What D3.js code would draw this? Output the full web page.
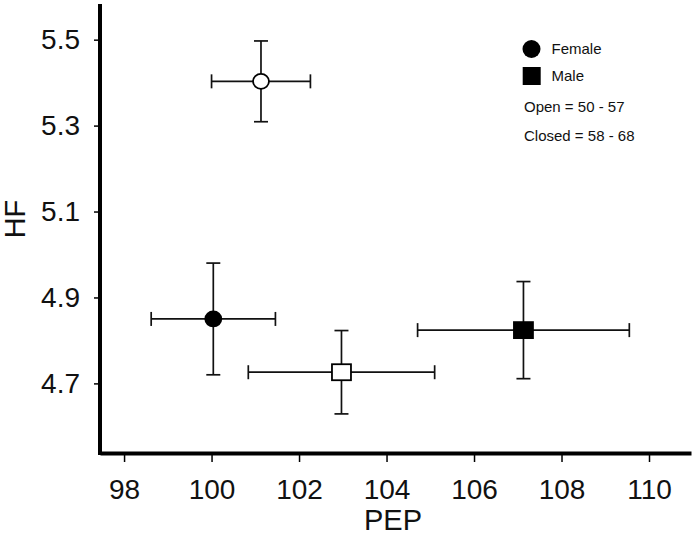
<!DOCTYPE html>
<html>
<head>
<meta charset="utf-8">
<script src="https://cdn.jsdelivr.net/npm/d3@7"></script>
<style>
  html, body { margin: 0; padding: 0; background: #fff; }
  svg { display: block; font-family: "Liberation Sans", Arial, sans-serif; }
</style>
</head>
<body>
<svg id="chart" width="696" height="535"></svg>
<script>
// ---- data ----
const groups  = ["Female Open", "Female Closed", "Male Open", "Male Closed"];
const sex     = ["Female", "Female", "Male", "Male"];
const ageOpen = [true, false, true, false];
const pep     = [101.13, 100.04, 102.97, 107.13];
const pepErr  = [1.13, 1.42, 2.13, 2.42];
const hf      = [5.403, 4.850, 4.726, 4.824];
const hfErr   = [0.094, 0.130, 0.097, 0.113];
const xTicks  = [98, 100, 102, 104, 106, 108, 110];
const yTicks  = [4.7, 4.9, 5.1, 5.3, 5.5];
const legendSymbols = ["Female", "Male"];
const legendNotes   = ["Open = 50 - 57", "Closed = 58 - 68"];

const rows = groups.map((g, i) => ({
  g, sex: sex[i], open: ageOpen[i], x: pep[i], xe: pepErr[i], y: hf[i], ye: hfErr[i]
}));

const svg = d3.select("#chart");
const x = d3.scaleLinear().domain([97.45, 110.96]).range([100, 691]);
const y = d3.scaleLinear().domain([4.538, 5.583]).range([453, 4]);
const font = '"Liberation Sans", Arial, sans-serif';

// ---- axes ----
const xAxis = svg.append("g").attr("transform", "translate(0,453)")
  .call(d3.axisBottom(x).tickValues(xTicks).tickFormat(d3.format("d"))
        .tickSize(9).tickSizeOuter(0).tickPadding(17));
xAxis.select(".domain").attr("stroke", "#000").attr("stroke-width", 4);
xAxis.selectAll(".tick line").attr("stroke", "#000").attr("stroke-width", 1.5);
xAxis.selectAll(".tick text").attr("font-size", 28).attr("font-family", font).attr("fill", "#111");

const yAxis = svg.append("g").attr("transform", "translate(100,0)")
  .call(d3.axisLeft(y).tickValues(yTicks).tickFormat(d3.format(".1f"))
        .tickSize(6).tickSizeOuter(0).tickPadding(14));
yAxis.select(".domain").attr("stroke", "#000").attr("stroke-width", 4)
  .attr("d", `M0,${y.range()[1]}V${y.range()[0] + 2}`);
yAxis.selectAll(".tick line").attr("stroke", "#000").attr("stroke-width", 1.5);
yAxis.selectAll(".tick text").attr("font-size", 28).attr("font-family", font).attr("fill", "#111");

// axis titles
svg.append("text").attr("x", 393).attr("y", 530).attr("text-anchor", "middle")
  .attr("font-size", 29).attr("fill", "#111").text("PEP");
svg.append("text").attr("transform", "translate(25,219) rotate(-90)")
  .attr("text-anchor", "middle").attr("font-size", 29).attr("fill", "#111").text("HF");

// ---- error bars ----
const cap = 7;
const eb = svg.append("g").attr("stroke", "#111").attr("stroke-width", 1.7).attr("fill", "none");
rows.forEach(d => {
  const cx = x(d.x), cy = y(d.y);
  const x0 = x(d.x - d.xe), x1 = x(d.x + d.xe);
  const y0 = y(d.y + d.ye), y1 = y(d.y - d.ye);
  eb.append("line").attr("x1", x0).attr("x2", x1).attr("y1", cy).attr("y2", cy);
  eb.append("line").attr("x1", cx).attr("x2", cx).attr("y1", y0).attr("y2", y1);
  eb.append("line").attr("x1", x0).attr("x2", x0).attr("y1", cy - cap).attr("y2", cy + cap);
  eb.append("line").attr("x1", x1).attr("x2", x1).attr("y1", cy - cap).attr("y2", cy + cap);
  eb.append("line").attr("x1", cx - cap).attr("x2", cx + cap).attr("y1", y0).attr("y2", y0);
  eb.append("line").attr("x1", cx - cap).attr("x2", cx + cap).attr("y1", y1).attr("y2", y1);
});

// ---- markers ----
const mk = svg.append("g");
rows.forEach(d => {
  const cx = x(d.x), cy = y(d.y);
  const fill = d.open ? "#fff" : "#000";
  if (d.sex === "Female") {
    mk.append("ellipse").attr("cx", cx).attr("cy", cy).attr("rx", 8).attr("ry", 7.5)
      .attr("fill", fill).attr("stroke", "#000").attr("stroke-width", 1.8);
  } else {
    mk.append("rect").attr("x", cx - 9.5).attr("y", cy - 8).attr("width", 19).attr("height", 16)
      .attr("fill", fill).attr("stroke", "#000").attr("stroke-width", 1.8);
  }
});

// ---- legend ----
const lg = svg.append("g").attr("font-size", 15).attr("fill", "#111");
legendSymbols.forEach((s, i) => {
  const cy = 49 + i * 27;
  if (s === "Female") {
    lg.append("circle").attr("cx", 531.5).attr("cy", cy).attr("r", 9).attr("fill", "#000");
  } else {
    lg.append("rect").attr("x", 522.7).attr("y", cy - 9).attr("width", 18).attr("height", 18).attr("fill", "#000");
  }
  lg.append("text").attr("x", 551.5).attr("y", cy + 5).text(s);
});
legendNotes.forEach((t, i) => {
  lg.append("text").attr("x", 524).attr("y", 112 + i * 29).text(t);
});
</script>
</body>
</html>
